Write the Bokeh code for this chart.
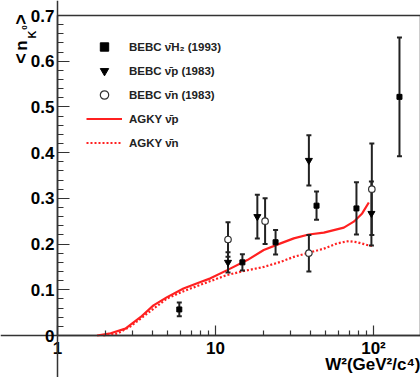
import math
from bokeh.plotting import figure
from bokeh.models import (ColumnDataSource, FixedTicker, Label, Legend, LegendItem, Range1d,
                          BoxAnnotation)
from bokeh.embed import file_html
from bokeh.resources import INLINE

# ---- data ----
h2_x = [5.9, 14.8, 24.0, 43.6, 78.0, 146.0]
h2_y = [0.057, 0.160, 0.204, 0.284, 0.278, 0.522]
h2_e = [0.015, 0.018, 0.027, 0.031, 0.057, 0.130]

p_x = [12.0, 18.4, 39.0, 97.0]
p_y = [0.160, 0.260, 0.383, 0.267]
p_e = [0.022, 0.048, 0.055, 0.070]

n_x = [12.0, 20.6, 39.0, 97.6]
n_y = [0.210, 0.250, 0.180, 0.320]
n_e = [0.038, 0.050, 0.040, 0.100]

agky_p_x = [1.78, 2.17, 2.69, 3.35, 4.05, 4.94, 6.27, 8.04, 9.29, 11.86, 15.9, 20.2,
            25.8, 31.3, 38.9, 48.5, 64.9, 75.0, 84.8, 93.4]
agky_p_y = [0.0, 0.005, 0.015, 0.040, 0.066, 0.084, 0.103, 0.117, 0.125, 0.143, 0.165, 0.187,
            0.2015, 0.2125, 0.221, 0.225, 0.236, 0.249, 0.267, 0.291]

agky_n_x = [1.95, 2.39, 2.90, 3.6, 4.94, 6.29, 8.04, 11.75, 15.1, 20.2, 25.8, 31.3,
            38.9, 48.5, 58.9, 69.8, 78.9, 91.2, 98.1]
agky_n_y = [0.0, 0.004, 0.020, 0.045, 0.081, 0.097, 0.111, 0.132, 0.141, 0.150, 0.161, 0.172,
            0.181, 0.190, 0.2015, 0.2066, 0.204, 0.198, 0.196]

x_major = [1, 10, 100]
x_minor = [2, 3, 4, 5, 6, 7, 8, 9, 20, 30, 40, 50, 60, 70, 80, 90, 200]
x_labels = {1: "1", 10: "10", 100: "10²"}
y_major = [0.0, 0.1, 0.2, 0.3, 0.4, 0.5, 0.6, 0.7]
y_minor = [round(i * 0.02, 2) for i in range(36)]
y_labels = {0.0: "0", 0.1: "0.1", 0.2: "0.2", 0.3: "0.3", 0.4: "0.4", 0.5: "0.5", 0.6: "0.6", 0.7: "0.7"}

FONT = "Liberation Sans"
AX = "#333333"
W, H = 420, 377
# pixel frame of the original axes box (left, bottom, top) and x-decade size
PL, PB, PT, DEC = 57, 335, 15, 158.0
YPX = (PB - PT) / 0.7

p = figure(width=W, height=H, x_axis_type="log", output_backend="svg",
           toolbar_location=None, min_border=0, min_border_left=0, min_border_right=0,
           min_border_top=0, min_border_bottom=0)
# the plotting frame fills the whole canvas; axes sit at fixed data positions
p.x_range = Range1d(10 ** (-PL / DEC), 10 ** ((W - PL) / DEC))
p.y_range = Range1d(-(H - PB) / YPX, 0.7 + PT / YPX)
p.grid.visible = False
p.background_fill_color = "white"
p.border_fill_color = "white"
p.outline_line_color = None

p.xaxis.fixed_location = 0
p.yaxis.fixed_location = 1
p.xaxis.ticker = FixedTicker(ticks=x_major, minor_ticks=x_minor)
p.xaxis.major_label_overrides = x_labels
p.yaxis.ticker = FixedTicker(ticks=y_major, minor_ticks=y_minor)
p.yaxis.major_label_overrides = y_labels
for ax in (p.xaxis, p.yaxis):
    ax.axis_line_color = AX
    ax.axis_line_width = 1.5
    ax.major_tick_line_color = AX
    ax.minor_tick_line_color = AX
    ax.major_tick_line_width = 1.2
    ax.minor_tick_line_width = 1.2
    ax.major_tick_out = 0
    ax.minor_tick_out = 0
    ax.major_label_text_font = FONT
    ax.major_label_text_font_style = "bold"
    ax.major_label_text_font_size = "17px"
    ax.major_label_text_color = "black"
p.yaxis.major_tick_in = 12
p.yaxis.minor_tick_in = 6
p.xaxis.major_tick_in = 10
p.xaxis.minor_tick_in = 5
p.yaxis.major_label_standoff = 3
p.xaxis.major_label_standoff = 3

# axes box (top/right border)
p.add_layout(BoxAnnotation(left=1, bottom=0, top=0.7, fill_alpha=0, line_color=AX,
                           line_alpha=1.0, line_width=1.5, level="underlay"))

# curves
r_lp = p.line(agky_p_x, agky_p_y, line_color="#ff2020", line_width=2.2)
r_ln = p.line(agky_n_x, agky_n_y, line_color="#ff2020", line_width=2.2, line_dash="2 2")

def errbars(xs, ys, es):
    src = ColumnDataSource(dict(x=xs, lo=[y - e for y, e in zip(ys, es)],
                                hi=[y + e for y, e in zip(ys, es)]))
    p.segment(x0="x", y0="lo", x1="x", y1="hi", source=src, line_color="#222222", line_width=2)
    p.scatter(x="x", y="lo", source=src, marker="dash", size=5, line_color="#222222", line_width=2)
    p.scatter(x="x", y="hi", source=src, marker="dash", size=5, line_color="#222222", line_width=2)

errbars(h2_x, h2_y, h2_e)
errbars(p_x, p_y, p_e)
errbars(n_x, n_y, n_e)

r_h2 = p.scatter(h2_x, h2_y, marker="square", size=5, fill_color="black", line_color="black")
r_p = p.scatter(p_x, p_y, marker="inverted_triangle", size=7, fill_color="black", line_color="black")
r_n = p.scatter(n_x, n_y, marker="circle", size=6.5, fill_color="white", line_color="#333333", line_width=1.2)

legend = Legend(items=[
    LegendItem(label="BEBC ν̄H₂ (1993)", renderers=[r_h2]),
    LegendItem(label="BEBC ν̄p (1983)", renderers=[r_p]),
    LegendItem(label="BEBC ν̄n (1983)", renderers=[r_n]),
    LegendItem(label="AGKY ν̄p", renderers=[r_lp]),
    LegendItem(label="AGKY ν̄n", renderers=[r_ln]),
], location=(86, H - 153), glyph_width=36, glyph_height=21, spacing=3, label_standoff=7,
    padding=0, margin=0, border_line_color=None, background_fill_alpha=0,
    label_text_font=FONT, label_text_font_style="bold", label_text_font_size="11.5px",
    label_text_color="#222222", label_height=21)
p.add_layout(legend, "center")

# axis titles (screen units = canvas here, origin bottom-left)
p.add_layout(Label(x=W, y=H - 364, x_units="screen", y_units="screen", text="W²(GeV²/c⁴)",
                   text_align="right", text_baseline="alphabetic", text_font=FONT,
                   text_font_style="bold", text_font_size="17px", text_color="black"))
for txt, cx, cy, fs in [("<", 20, 58, "18px"), ("n", 21, 45, "17px"), ("K", 31, 34, "11px"),
                        ("0", 24, 27, "8px"), (">", 20, 19, "18px")]:
    p.add_layout(Label(x=cx, y=H - cy, x_units="screen", y_units="screen", text=txt,
                       angle=math.pi / 2, text_align="center", text_baseline="middle",
                       text_font=FONT, text_font_style="bold", text_font_size=fs,
                       text_color="black"))

open("out.html", "w").write(file_html(p, INLINE))
